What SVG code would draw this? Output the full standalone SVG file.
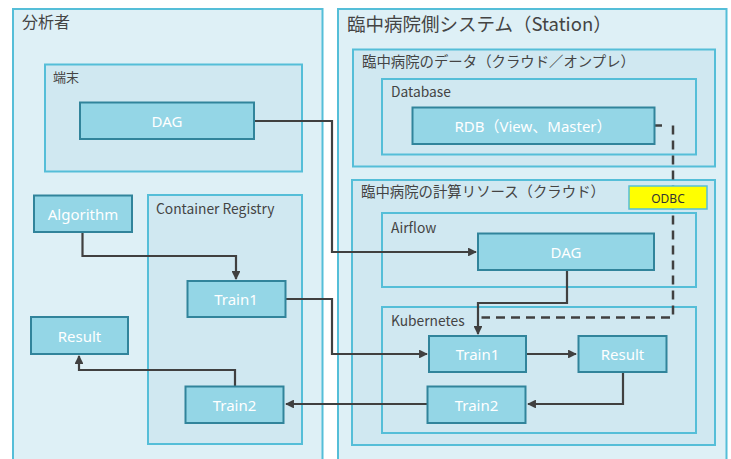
<svg xmlns="http://www.w3.org/2000/svg" width="731" height="459" viewBox="0 0 731 459">
<defs>
<style>
.outer{fill:#def0f6;stroke:#55bed8;stroke-width:2}
.inner{fill:#d0e8f1;stroke:#55bed8;stroke-width:2}
.node{fill:#94d6e6;stroke:#31849b;stroke-width:2}
.lbl{font-family:"Noto Sans CJK JP","Noto Sans",sans-serif;fill:#444}
.nt{font-family:"Noto Sans","Noto Sans CJK JP",sans-serif;fill:#fff;font-size:15px;text-anchor:middle;dominant-baseline:central}
.c{fill:none;stroke:#404040;stroke-width:2.2}
</style>
<marker id="ah" viewBox="0 0 10 10" refX="9" refY="5" markerWidth="4" markerHeight="4" orient="auto" markerUnits="strokeWidth">
<path d="M0,0 L10,5 L0,10 z" fill="#404040"/>
</marker>
</defs>
<rect width="731" height="459" fill="#fff"/>
<g id="analyst">
<rect class="outer" x="13" y="9" width="309.5" height="460"/>
<text class="lbl" x="22" y="28" font-size="16">分析者</text>
</g>
<g id="terminal">
<rect class="inner" x="45" y="64.5" width="257" height="107"/>
<text class="lbl" x="53" y="82" font-size="13">端末</text>
</g>
<g id="registry">
<rect class="inner" x="148" y="195" width="154" height="249"/>
<text class="lbl" x="156" y="214" font-size="13.8">Container Registry</text>
</g>
<g id="station">
<rect class="outer" x="338" y="9" width="388.5" height="460"/>
<text class="lbl" x="347" y="31" font-size="18.5">臨中病院側システム（Station）</text>
</g>
<g id="data">
<rect class="inner" x="353" y="49.5" width="362" height="117"/>
<text class="lbl" x="362" y="67" font-size="14.4">臨中病院のデータ（クラウド／オンプレ）</text>
</g>
<g id="database">
<rect class="inner" x="382" y="79" width="314" height="75.5"/>
<text class="lbl" x="391" y="97" font-size="13.8">Database</text>
</g>
<g id="compute">
<rect class="inner" x="352" y="180" width="363" height="265"/>
<text class="lbl" x="361" y="197" font-size="14.4">臨中病院の計算リソース（クラウド）</text>
</g>
<g id="airflow">
<rect class="inner" x="382" y="213" width="314" height="74"/>
<text class="lbl" x="391" y="233" font-size="13.8">Airflow</text>
</g>
<g id="kubernetes">
<rect class="inner" x="382" y="307" width="314" height="126"/>
<text class="lbl" x="391" y="326" font-size="13.8">Kubernetes</text>
</g>
<g id="connectors">
<path class="c" d="M254,121 H332 V252 H476" marker-end="url(#ah)"/>
<path class="c" d="M82.5,232 V256 H236 V279" marker-end="url(#ah)"/>
<path class="c" d="M285,299 H332 V354 H427" marker-end="url(#ah)"/>
<path class="c" d="M427,404 H286" marker-end="url(#ah)"/>
<path class="c" d="M235,386 V370 H79 V356" marker-end="url(#ah)"/>
<path class="c" d="M567,270 V303 H478 V334" marker-end="url(#ah)"/>
<path class="c" d="M526,354 H576" marker-end="url(#ah)"/>
<path class="c" d="M623,372 V404 H528" marker-end="url(#ah)"/>
<path class="c" d="M655,125.5 H662 M673,125.5 V317.5 H481.5" stroke-dasharray="9,6" style="stroke-width:2.5"/>
</g>
<g id="odbc">
<rect x="629" y="186" width="78" height="23" fill="#ffff00" stroke="#55bed8" stroke-width="1.5"/>
<text x="668" y="198" font-family="Noto Sans,sans-serif" font-size="12" fill="#333" text-anchor="middle" dominant-baseline="central">ODBC</text>
</g>
<g id="dag1"><rect class="node" x="80" y="102.5" width="174" height="36.5"/><text class="nt" x="167" y="121">DAG</text></g>
<g id="algorithm"><rect class="node" x="34" y="195.5" width="98" height="36.5"/><text class="nt" x="83" y="214">Algorithm</text></g>
<g id="train1a"><rect class="node" x="187.5" y="281" width="98" height="36"/><text class="nt" x="236" y="299">Train1</text></g>
<g id="result1"><rect class="node" x="31" y="317" width="97" height="37"/><text class="nt" x="79.5" y="335.5">Result</text></g>
<g id="train2a"><rect class="node" x="185.5" y="386.5" width="98" height="36.5"/><text class="nt" x="234.5" y="405">Train2</text></g>
<g id="rdb"><rect class="node" x="412.5" y="107.5" width="242" height="36.5"/><text class="nt" x="533" y="126">RDB（View、Master）</text></g>
<g id="dag2"><rect class="node" x="478" y="233.5" width="176" height="36.5"/><text class="nt" x="566" y="252">DAG</text></g>
<g id="train1b"><rect class="node" x="429" y="336" width="97" height="36"/><text class="nt" x="477.5" y="354">Train1</text></g>
<g id="result2"><rect class="node" x="578.5" y="336" width="88" height="36"/><text class="nt" x="622.5" y="354">Result</text></g>
<g id="train2b"><rect class="node" x="427.5" y="386.5" width="98" height="36.5"/><text class="nt" x="476.5" y="405">Train2</text></g>
</svg>
